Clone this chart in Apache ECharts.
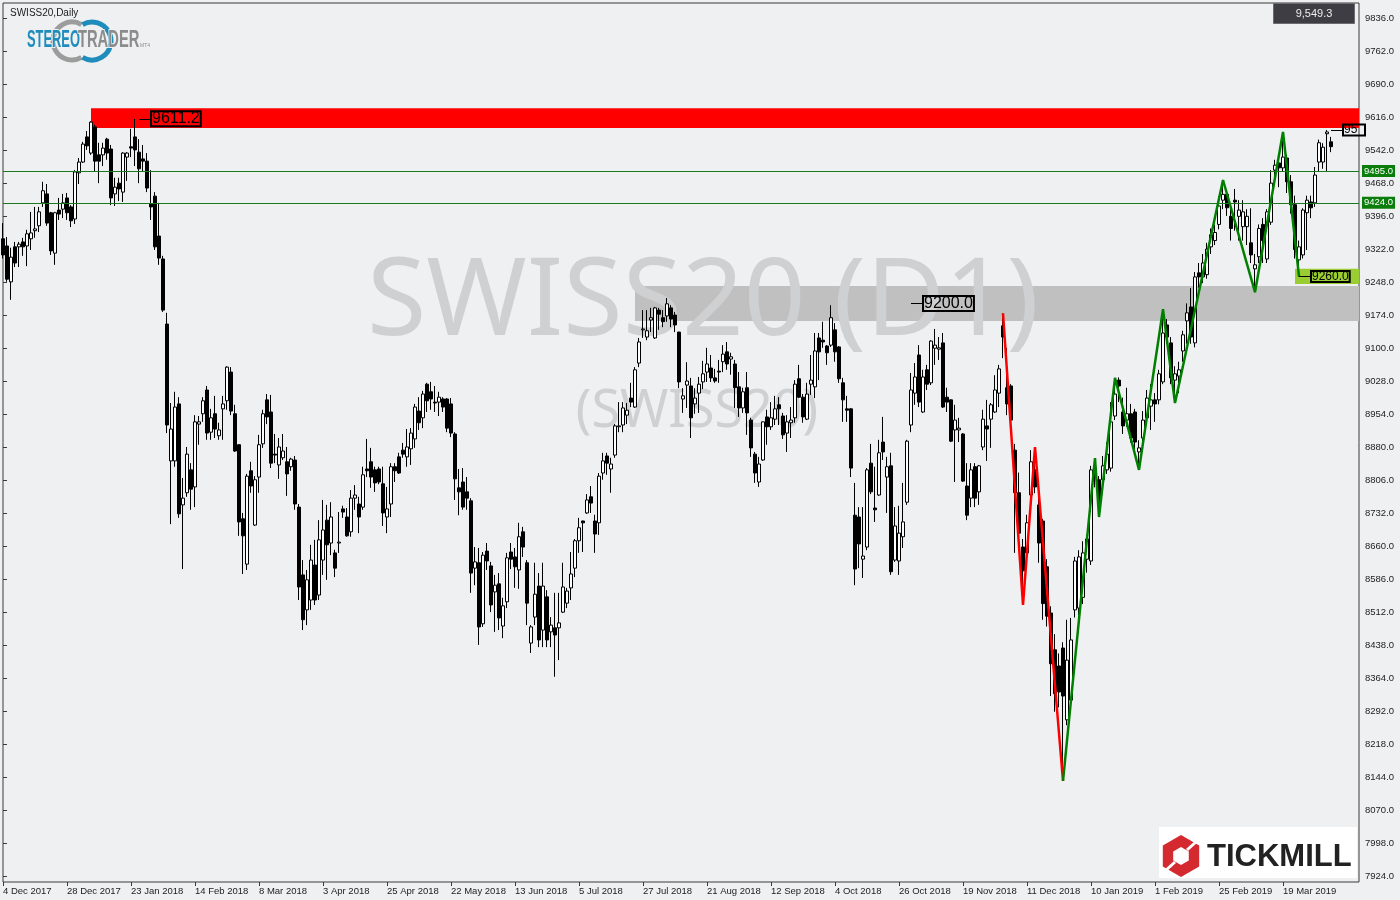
<!DOCTYPE html>
<html><head><meta charset="utf-8">
<script src="https://cdn.jsdelivr.net/npm/echarts@6/dist/echarts.min.js"></script>
<style>html,body{margin:0;padding:0;background:#eff0f2;}#c{width:1400px;height:900px;}</style>
</head><body><div id="c"></div>
<script>
// ---- x-axis date labels (one every 16 bars) ----
const dateLabels = ['4 Dec 2017','28 Dec 2017','23 Jan 2018','14 Feb 2018','8 Mar 2018','3 Apr 2018','25 Apr 2018','22 May 2018','13 Jun 2018','5 Jul 2018','27 Jul 2018','21 Aug 2018','12 Sep 2018','4 Oct 2018','26 Oct 2018','19 Nov 2018','11 Dec 2018','10 Jan 2019','1 Feb 2019','25 Feb 2019','19 Mar 2019'];
// ---- right price-axis tick labels ----
const priceTicks = ['7924.0','7998.0','8070.0','8144.0','8218.0','8292.0','8364.0','8438.0','8512.0','8586.0','8660.0','8732.0','8806.0','8880.0','8954.0','9028.0','9100.0','9174.0','9248.0','9322.0','9396.0','9468.0','9542.0','9616.0','9690.0','9762.0','9836.0'];

// ---- daily bars [open, high, low, close] ----
const barsDecToFeb = [
[9344,9379,9300,9308],[9328,9348,9248,9254],[9248,9324,9208,9303],[9326,9337,9281,9290],[9326,9337,9281,9332],[9337,9346,9306,9326],[9328,9364,9283,9355],[9344,9404,9319,9357],
[9362,9415,9346,9366],[9373,9415,9359,9404],[9424,9471,9415,9451],[9444,9466,9373,9379],[9402,9404,9308,9317],[9312,9404,9286,9402],[9408,9435,9386,9399],[9410,9444,9390,9424],
[9435,9446,9386,9402],[9415,9419,9370,9384],[9388,9497,9377,9493],[9491,9524,9466,9515],[9515,9560,9513,9555],[9571,9584,9542,9551],[9535,9606,9531,9604],[9593,9598,9495,9517],
[9531,9558,9468,9517],[9531,9558,9506,9546],[9566,9569,9520,9535],[9544,9553,9419,9435],[9444,9480,9417,9459],[9468,9480,9428,9455],[9448,9537,9426,9535],[9526,9537,9473,9535],
[9549,9589,9526,9546],[9571,9611.2,9506,9542],[9537,9566,9468,9500],[9522,9553,9495,9517],[9517,9535,9448,9457],[9422,9497,9386,9415],[9439,9448,9319,9326],[9350,9424,9286,9301],
[9299,9306,9181,9185],[9154,9179,8911,8929],[8849,8978,8708,8920],[8849,9003,8836,8969],[8976,8991,8722,8731],[8751,8811,8608,8766],[8778,8880,8769,8864],[8829,8844,8740,8786],
[8791,8951,8746,8936],[8931,8949,8885,8936],[8954,8991,8936,8983],[9007,9016,8896,8911],[8913,8965,8896,8945],[8954,8994,8900,8920],[8905,8934,8896,8918],[8965,8994,8896,8976],
[8983,9060,8963,9058],[9047,9058,8951,8960],[8954,8974,8869,8871],[8885,8886,8682,8713],[8720,8733,8597,8682],[8619,8820,8606,8815],[8827,8847,8778,8793],[8706,8815,8704,8807]
];
const barsMarToJun = [
[8813,8907,8778,8885],[8887,8963,8878,8954],[8985,8998,8931,8947],[8958,8996,8833,8844],[8864,8909,8844,8862],[8840,8900,8809,8880],[8856,8909,8851,8871],[8847,8880,8771,8820],
[8836,8856,8827,8853],[8851,8860,8740,8753],[8746,8753,8539,8568],[8595,8628,8472,8495],[8517,8606,8483,8584],[8539,8662,8517,8628],[8617,8673,8528,8539],[8550,8717,8539,8673],
[8628,8762,8595,8695],[8717,8751,8584,8662],[8666,8757,8639,8724],[8644,8651,8590,8610],[8666,8735,8644,8668],[8742,8749,8722,8735],[8724,8744,8680,8682],[8691,8784,8680,8766],
[8766,8795,8740,8773],[8753,8769,8688,8724],[8746,8836,8740,8818],[8831,8898,8813,8827],[8847,8878,8789,8813],[8829,8836,8780,8800],[8831,8836,8797,8802],[8798,8836,8704,8733],
[8724,8791,8688,8742],[8753,8844,8724,8836],[8836,8844,8802,8827],[8858,8867,8820,8822],[8873,8889,8856,8864],[8858,8920,8836,8880],[8876,8922,8840,8911],[8898,8976,8878,8969],
[8960,8991,8918,8934],[8945,9005,8922,8998],[9020,9023,8958,8983],[9003,9025,8963,8987],[8980,9016,8958,8978],[8980,9003,8949,8991],[8987,8991,8958,8969],[8987,8989,8913,8922],
[8976,8989,8902,8911],[8909,8913,8762,8809],[8789,8831,8728,8780],[8802,8833,8740,8746],[8780,8813,8740,8766],[8760,8766,8555,8599],[8610,8657,8572,8624],[8622,8655,8439,8479],
[8486,8646,8479,8639],[8648,8666,8606,8626],[8615,8624,8512,8528],[8557,8595,8468,8572],[8575,8599,8472,8499],[8481,8544,8454,8526],[8535,8644,8521,8633],[8646,8666,8608,8630]
];
const barsJunToSep = [
[8635,8655,8566,8613],[8606,8711,8564,8680],[8691,8702,8635,8657],[8622,8628,8483,8532],[8443,8483,8421,8479],[8501,8622,8483,8552],[8570,8599,8434,8450],[8472,8622,8434,8570],
[8546,8561,8434,8450],[8468,8501,8434,8483],[8477,8555,8368,8461],[8477,8555,8405,8488],[8512,8622,8510,8568],[8532,8566,8521,8559],[8566,8646,8539,8597],[8610,8675,8590,8671],
[8671,8722,8644,8700],[8715,8716,8646,8711],[8733,8775,8731,8762],[8769,8793,8733,8755],[8715,8729,8644,8686],[8711,8822,8684,8815],[8822,8867,8807,8849],[8860,8867,8818,8844],
[8831,8856,8778,8842],[8862,8931,8856,8927],[8925,8980,8913,8927],[8929,8980,8913,8967],[8951,8978,8931,8962],[8989,9023,8969,8980],[8969,9058,8967,9052],[9067,9123,9058,9114],
[9141,9185,9123,9143],[9125,9185,9118,9139],[9163,9190,9136,9168],[9123,9192,9121,9190],[9185,9190,9141,9176],[9168,9185,9147,9159],[9172,9212,9159,9199],[9190,9196,9147,9165],
[9174,9181,9136,9152],[9136,9137,9011,9025],[8987,9011,8956,8994],[9018,9069,8967,9027],[9016,9034,8900,8945],[8976,9011,8954,8989],[9000,9036,8956,9020],[9025,9072,9009,9043],
[9047,9101,9025,9065],[9056,9085,9025,9034],[9034,9054,9023,9027],[9049,9074,9023,9047],[9070,9107,9047,9087],[9092,9114,9052,9065],[9076,9090,9041,9081],[9065,9074,8967,9012],
[9014,9047,8947,8967],[8967,9012,8956,9003],[9012,9047,8907,8956],[8940,8945,8858,8878],[8864,8869,8800,8822],[8802,8858,8791,8842],[8851,8937,8849,8936],[8947,8963,8885,8925]
];
const barsSepToDec = [
[8925,8980,8918,8945],[8942,8994,8929,8965],[8974,8991,8929,8965],[8949,8956,8898,8907],[8911,8951,8869,8936],[8934,8969,8900,8940],[8945,9029,8934,9020],[9032,9063,8989,8991],
[8991,8998,8934,8947],[8942,9023,8940,8998],[9020,9085,8996,9029],[9014,9134,8989,9094],[9123,9134,9029,9092],[9118,9159,9101,9114],[9105,9107,9063,9090],[9107,9196,9103,9168],
[9141,9156,9070,9092],[9103,9105,9023,9032],[9023,9034,8936,8985],[8965,8994,8936,8962],[8965,8967,8813,8833],[8728,8800,8572,8608],[8724,8746,8610,8664],[8630,8746,8588,8637],
[8657,8833,8650,8829],[8844,8887,8775,8780],[8744,8836,8713,8740],[8773,8896,8771,8867],[8891,8947,8851,8869],[8813,8858,8733,8836],[8838,8867,8595,8602],[8628,8746,8624,8704],
[8626,8749,8595,8688],[8680,8800,8655,8713],[8757,8896,8751,8893],[8929,9045,8913,9007],[9000,9067,8974,9036],[9085,9107,8969,8980],[8958,9052,8956,9036],[9052,9063,9007,9020],
[9023,9118,9018,9116],[9100,9143,9063,9107],[9098,9125,9074,9101],[9112,9134,8967,8969],[8991,9012,8958,8980],[8985,8986,8891,8893],[8918,8974,8802,8940],[8918,8945,8891,8922],
[8909,8911,8802,8804],[8793,8844,8717,8728],[8766,8844,8746,8829],[8836,8844,8746,8766],[8780,8840,8751,8838],[8880,8963,8873,8942],[8927,8985,8849,8920],[8942,8978,8878,8974],
[8958,9040,8956,9007],[9000,9063,8969,9054],[9150,9178,9078,9125],[9012,9101,8951,8976],[9016,9020,8929,8940],[8873,8887,8644,8778],[8778,8823,8680,8688],[8657,8675,8528,8604]
];
const barsDecToApr = [
[8644,8729,8628,8711],[8773,8873,8746,8847],[8829,8880,8777,8791],[8751,8800,8622,8666],[8715,8720,8495,8531],[8613,8630,8480,8503],[8510,8525,8325,8397],[8428,8463,8290,8330],
[8392,8420,8300,8334],[8432,8445,8136,8325],[8272,8495,8260,8405],[8316,8499,8300,8450],[8517,8635,8500,8626],[8521,8650,8505,8635],[8545,8670,8530,8644],[8630,8684,8600,8675],
[8626,8838,8617,8829],[8833,8855,8790,8811],[8807,8815,8724,8755],[8807,8860,8782,8838],[8829,8891,8820,8864],[8833,8980,8825,8936],[8949,9034,8940,8998],[9029,9035,8980,9016],
[8958,8990,8909,8927],[8940,9012,8925,8954],[8954,8976,8890,8900],[8958,8965,8869,8891],[8869,8895,8829,8878],[8900,8960,8891,8940],[8945,9007,8935,8989],[8971,9020,8918,8985],
[8985,9000,8936,8976],[8985,9052,8975,9043],[9025,9187,9020,9134],[9152,9165,9110,9125],[9112,9125,9020,9034],[9029,9060,8978,9043],[9038,9070,9000,9052],[9094,9139,9070,9130],
[9161,9200,9110,9179],[9192,9234,9110,9125],[9112,9270,9102,9259],[9268,9290,9235,9259],[9259,9310,9245,9290],[9264,9335,9255,9321],[9326,9367,9310,9353],[9340,9376,9330,9358],
[9376,9439,9365,9417],[9430,9475,9410,9443],[9443,9453,9395,9413],[9394,9410,9340,9367],[9430,9455,9362,9426],[9394,9430,9340,9408],[9371,9430,9340,9404],[9371,9410,9330,9394],
[9335,9412,9290,9308],[9277,9310,9225,9286],[9304,9376,9290,9367],[9376,9390,9290,9340],[9299,9410,9290,9404],[9381,9497,9375,9468],[9497,9520,9468,9508],[9513,9526,9459,9502],
[9502,9582,9495,9526],[9524,9531,9446,9471],[9471,9486,9400,9420],[9420,9440,9300,9320],[9297,9340,9260,9326],[9308,9412,9300,9408],[9402,9440,9319,9430],[9426,9440,9390,9413],
[9424,9504,9415,9486],[9515,9565,9495,9558],[9515,9557,9500,9548],[9578,9586.4,9495,9582],[9560,9571,9537,9549.3]
];

// ---- ZigZag turning points (bar index, price) ----
const zigRedBars = [250, 255, 258, 265];
const zigRedPrices = [9178, 8528, 8880, 8136];
const zigGreenBars = [265, 273, 274, 278, 284, 290, 293, 305, 313, 320, 324];
const zigGreenPrices = [8136, 8855, 8724, 9034, 8829, 9187, 8978, 9475, 9225, 9582, 9260];

// ---- horizontal levels and zones ----
const levelLines = [9495.0, 9424.0];
const zoneRed = [9591, 9635];      // from bar 22
const zoneGray = [9161, 9239];     // from bar 158
const zoneGreen = [9243, 9277];    // from bar 323
// price text labels: [fromBar, toBar] and price
const textLabelBars = [[34, 37], [227, 230], [324, 327], [332, 335]];
const textLabelPrices = [9611.2, 9200.0, 9260.0, 9586.4];

const bars = barsDecToFeb.concat(barsMarToJun, barsJunToSep, barsSepToDec, barsDecToApr);
const nCats = 340;
const cats = Array.from({length: nCats}, (_, i) => String(i));
const candleData = bars.map(b => [b[0], b[3], b[2], b[1]]);
const lastClose = bars[bars.length - 1][3];

const FONT = '"Liberation Sans", Arial, sans-serif';
const labelInterval = (i) => i % 16 === 0 && i / 16 < dateLabels.length;

const chart = echarts.init(document.getElementById('c'), null, {renderer: 'canvas'});

const textMarkLines = textLabelBars.map((b, k) => {
  const small = k >= 2;
  const lbl = {
    show: true, position: 'end', distance: 0,
    formatter: () => textLabelPrices[k].toFixed(1),
    fontFamily: FONT, fontSize: small ? 12 : 16, color: '#000',
    borderColor: '#000', borderWidth: 1, padding: [0, 1, -1, 1],
    backgroundColor: 'transparent'
  };
  if (k === 3) { lbl.width = 20; lbl.overflow = 'truncate'; lbl.ellipsis = ''; }
  return [
    {coord: [b[0], textLabelPrices[k]], label: lbl, lineStyle: {color: '#000', width: 1, type: 'solid'}},
    {coord: [b[1], textLabelPrices[k]]}
  ];
});

const option = {
  backgroundColor: '#eff0f2',
  animation: false,
  title: {text: 'SWISS20,Daily', left: 5, top: 3, textStyle: {fontFamily: FONT, fontSize: 10, fontWeight: 'normal', color: '#1a1a1a'}},
  grid: [
    {left: 3, top: 3, width: 1356, height: 879, show: true, borderColor: '#3a3a3a', borderWidth: 1, backgroundColor: 'transparent', outerBoundsMode: 'none', containLabel: false},
    {left: 3, top: 18, width: 1356, height: 858, show: false, outerBoundsMode: 'none', containLabel: false}
  ],
  xAxis: [
    {type: 'category', gridIndex: 0, data: cats, boundaryGap: false,
     axisLine: {show: false},
     axisTick: {show: true, interval: labelInterval, length: 4, lineStyle: {color: '#3a3a3a', width: 1}},
     axisLabel: {interval: labelInterval, formatter: (v, i) => dateLabels[Math.round(Number(v) / 16)] || '', align: 'left', margin: 4,
                 fontFamily: FONT, fontSize: 9.5, color: '#222'},
     splitLine: {show: false}},
    {type: 'value', gridIndex: 1, show: false, min: 0, max: 1}
  ],
  yAxis: [
    {type: 'value', gridIndex: 0, min: 7910.6, max: 9869.4, show: false, splitLine: {show: false}},
    {type: 'value', gridIndex: 1, position: 'right', min: 7924, max: 9836, interval: 1912 / 26,
     axisLine: {show: false},
     axisTick: {show: true, length: 4, lineStyle: {color: '#3a3a3a'}},
     axisLabel: {formatter: (v, i) => priceTicks[i] || '', margin: 6, fontFamily: FONT, fontSize: 9.5, color: '#222',
                 showMinLabel: true, showMaxLabel: true},
     splitLine: {show: false}}
  ],
  graphic: [
    // watermark
    {type: 'text', z: 1, silent: true, style: {text: 'SWISS20 (D1)', x: 703, y: 304, align: 'center', verticalAlign: 'middle', textAlign: 'center', textVerticalAlign: 'middle', font: '108px "Noto Sans", sans-serif', fill: '#cfd0d2'}},
    {type: 'text', z: 1, silent: true, style: {text: '(SWISS20)', x: 697, y: 412, align: 'center', verticalAlign: 'middle', textAlign: 'center', textVerticalAlign: 'middle', font: '52px "Noto Sans", sans-serif', fill: '#cfd0d2'}},
    // StereoTrader logo
    {type: 'arc', z: 10, silent: true, shape: {cx: 72, cy: 41, r: 19, startAngle: Math.PI / 3, endAngle: Math.PI * 5 / 3, clockwise: true}, style: {stroke: '#9c9c9c', lineWidth: 5, fill: 'none'}},
    {type: 'arc', z: 10, silent: true, shape: {cx: 92, cy: 41, r: 19, startAngle: Math.PI * 4 / 3, endAngle: Math.PI * 8 / 3, clockwise: true}, style: {stroke: '#1f8dbb', lineWidth: 5, fill: 'none'}},
    {type: 'text', z: 11, silent: true, x: 27, y: 41, scaleX: 0.56, style: {text: 'STEREO', x: 0, y: 0, verticalAlign: 'middle', textVerticalAlign: 'middle', font: 'bold 23px "Liberation Sans", sans-serif', fill: '#1f8dbb', stroke: '#eff0f2', lineWidth: 2}},
    {type: 'text', z: 11, silent: true, x: 78, y: 41, scaleX: 0.64, style: {text: 'TRADER', x: 0, y: 0, verticalAlign: 'middle', textVerticalAlign: 'middle', font: 'bold 23px "Liberation Sans", sans-serif', fill: '#8c8c8c', stroke: '#eff0f2', lineWidth: 2}},
    {type: 'text', z: 11, silent: true, style: {text: 'MT4', x: 140, y: 46, verticalAlign: 'middle', textVerticalAlign: 'middle', font: '5px "Liberation Sans", sans-serif', fill: '#8c8c8c'}},
    // top-right price box
    {type: 'rect', z: 10, silent: true, shape: {x: 1273.5, y: 3.5, width: 81, height: 20}, style: {fill: '#3d3d43', stroke: '#6b6b70', lineWidth: 1}},
    {type: 'text', z: 11, silent: true, style: {text: lastClose.toLocaleString('en-US', {minimumFractionDigits: 1, maximumFractionDigits: 1}), x: 1314, y: 13.5, align: 'center', verticalAlign: 'middle', textAlign: 'center', textVerticalAlign: 'middle', font: '11px "Liberation Sans", sans-serif', fill: '#ececec'}},
    // Tickmill logo
    {type: 'rect', z: 10, silent: true, shape: {x: 1159, y: 827, width: 198, height: 51}, style: {fill: '#ffffff'}},
    {type: 'polygon', z: 11, silent: true, shape: {points: [[1181, 835], [1199.2, 845.5], [1199.2, 866.5], [1181, 877], [1162.8, 866.5], [1162.8, 845.5]]}, style: {fill: '#d42a2f'}},
    {type: 'polygon', z: 12, silent: true, shape: {points: [[1181, 847], [1188.8, 851.5], [1188.8, 860.5], [1181, 865], [1173.2, 860.5], [1173.2, 851.5]]}, style: {fill: '#ffffff'}},
    {type: 'line', z: 12, silent: true, shape: {x1: 1187, y1: 850, x2: 1197, y2: 841}, style: {stroke: '#ffffff', lineWidth: 3}},
    {type: 'line', z: 12, silent: true, shape: {x1: 1175, y1: 862, x2: 1165, y2: 871}, style: {stroke: '#ffffff', lineWidth: 3}},
    {type: 'text', z: 11, silent: true, style: {text: 'TICKMILL', x: 1207, y: 857, verticalAlign: 'middle', textVerticalAlign: 'middle', font: 'bold 31px "Liberation Sans", sans-serif', fill: '#222222'}}
  ],
  series: [
    {type: 'line', name: 'zones', xAxisIndex: 0, yAxisIndex: 0, data: [], silent: true,
     markArea: {silent: true, z: 0, data: [
       [{coord: [22, zoneRed[1]], itemStyle: {color: '#ff0000'}}, {coord: [nCats - 1, zoneRed[0]]}],
       [{coord: [158, zoneGray[1]], itemStyle: {color: '#c0c0c0'}}, {coord: [nCats - 1, zoneGray[0]]}],
       [{coord: [323, zoneGreen[1]], itemStyle: {color: '#9acd32'}}, {coord: [nCats - 1, zoneGreen[0]]}]
     ]}},
    {type: 'candlestick', name: 'SWISS20', xAxisIndex: 0, yAxisIndex: 0, z: 2, data: candleData, barWidth: 3,
     itemStyle: {color: '#ffffff', color0: '#000000', borderColor: '#000000', borderColor0: '#000000', borderColorDoji: '#000000', borderWidth: 1}},
    {type: 'line', name: 'zigRed', xAxisIndex: 0, yAxisIndex: 0, z: 3, symbol: 'none', silent: true,
     data: zigRedBars.map((b, i) => [b, zigRedPrices[i]]), lineStyle: {color: '#ff0000', width: 2.5}},
    {type: 'line', name: 'zigGreen', xAxisIndex: 0, yAxisIndex: 0, z: 3, symbol: 'none', silent: true,
     data: zigGreenBars.map((b, i) => [b, zigGreenPrices[i]]), lineStyle: {color: '#008000', width: 2.5}},
    {type: 'line', name: 'levels', xAxisIndex: 0, yAxisIndex: 0, data: [], silent: true,
     markLine: {silent: true, symbol: ['none', 'none'], animation: false,
       data: levelLines.map(v => ({yAxis: v, lineStyle: {color: '#1c781c', width: 1, type: 'solid'},
         label: {show: true, position: 'end', distance: 3, formatter: () => v.toFixed(1), fontFamily: FONT, fontSize: 9.5,
                 color: '#ffffff', backgroundColor: '#0a7d0a', padding: [1, 2, 1, 2]}})).concat(textMarkLines)
     }}
  ]
};
chart.setOption(option);
</script>
</body></html>
